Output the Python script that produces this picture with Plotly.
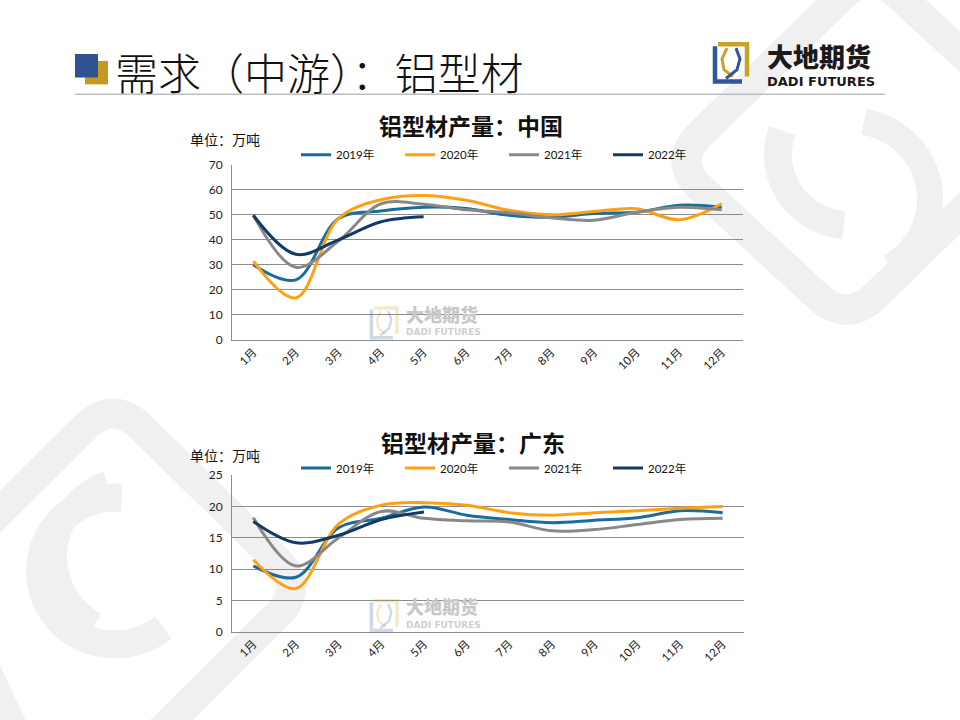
import math
import plotly.graph_objects as go

# ---------------- data ----------------
months = ["1月", "2月", "3月", "4月", "5月", "6月", "7月", "8月", "9月", "10月", "11月", "12月"]
series_names = ["2019年", "2020年", "2021年", "2022年"]

china_2019 = [30.0, 24.0, 48.5, 51.5, 53.0, 52.5, 49.8, 49.0, 50.5, 51.0, 53.8, 53.0]
china_2020 = [31.5, 16.8, 48.5, 56.0, 57.7, 55.8, 51.8, 50.0, 51.3, 52.4, 48.0, 54.4]
china_2021 = [49.8, 29.0, 39.5, 54.4, 54.2, 52.0, 50.8, 48.8, 47.8, 51.0, 53.0, 52.0]
china_2022 = [49.8, 34.2, 40.0, 47.2, 49.2]

gd_2019 = [10.5, 8.7, 16.6, 18.1, 19.9, 18.6, 17.9, 17.4, 17.8, 18.2, 19.3, 19.0]
gd_2020 = [11.5, 6.9, 17.2, 20.2, 20.6, 20.2, 19.0, 18.6, 19.0, 19.3, 19.7, 20.0]
gd_2021 = [18.2, 10.5, 15.0, 19.2, 18.1, 17.7, 17.5, 16.1, 16.3, 17.1, 17.9, 18.1]
gd_2022 = [17.6, 14.2, 15.4, 17.9, 19.1]

colors = ["#1a6c9c", "#ffa010", "#888888", "#113a66"]

W, H = 960, 720


def px(x):
    return x / W


def py(y):
    return 1 - y / H


def path_from_pts(pts, closed=False):
    s = "M " + " L ".join(f"{px(x):.5f},{py(y):.5f}" for x, y in pts)
    return s + (" Z" if closed else "")


def rounded_poly(pts, r):
    n = len(pts)
    segs = []
    for i in range(n):
        cx, cy = pts[i]
        pxv, pyv = pts[i - 1]
        nx, ny = pts[(i + 1) % n]
        d1 = math.hypot(pxv - cx, pyv - cy)
        d2 = math.hypot(nx - cx, ny - cy)
        a = (cx + (pxv - cx) * r / d1, cy + (pyv - cy) * r / d1)
        b = (cx + (nx - cx) * r / d2, cy + (ny - cy) * r / d2)
        segs.append((a, (cx, cy), b))
    s = f"M {px(segs[0][0][0]):.5f},{py(segs[0][0][1]):.5f}"
    for i, (a, c, b) in enumerate(segs):
        if i > 0:
            s += f" L {px(a[0]):.5f},{py(a[1]):.5f}"
        s += f" Q {px(c[0]):.5f},{py(c[1]):.5f} {px(b[0]):.5f},{py(b[1]):.5f}"
    s += f" L {px(segs[0][0][0]):.5f},{py(segs[0][0][1]):.5f}"
    return s


def arc(cx, cy, r, a0, a1, n=40):
    pts = []
    for k in range(n + 1):
        t = math.radians(a0 + (a1 - a0) * k / n)
        pts.append((cx + r * math.cos(t), cy + r * math.sin(t)))
    return path_from_pts(pts)


bg = "#f0f0f0"
shapes = []
# decorative watermark bands (top-right)
shapes.append(dict(type="path", xref="paper", yref="paper", layer="below",
                   path=rounded_poly([(870, -40), (1045, 125), (847, 322), (672, 157)], 40),
                   line=dict(color=bg, width=30)))
shapes.append(dict(type="path", xref="paper", yref="paper", layer="below",
                   path=arc(850, 150, 72, 200, 95), line=dict(color=bg, width=28)))
shapes.append(dict(type="path", xref="paper", yref="paper", layer="below",
                   path=arc(850, 195, 80, -80, 60), line=dict(color=bg, width=26)))
# decorative watermark bands (bottom-left)
shapes.append(dict(type="path", xref="paper", yref="paper", layer="below",
                   path=rounded_poly([(113, 400), (305, 592), (60, 840), (-60, 575)], 40),
                   line=dict(color=bg, width=30)))
shapes.append(dict(type="path", xref="paper", yref="paper", layer="below",
                   path=arc(115, 575, 75, 275, 50), line=dict(color=bg, width=28)))
shapes.append(dict(type="path", xref="paper", yref="paper", layer="below",
                   path=arc(135, 560, 80, 120, 250), line=dict(color=bg, width=24)))

# header squares
shapes.append(dict(type="rect", xref="paper", yref="paper", x0=px(85), x1=px(108), y0=py(54), y1=py(78),
                   fillcolor="#c49a22", line=dict(width=0)))
shapes.append(dict(type="rect", xref="paper", yref="paper", x0=px(75), x1=px(98), y0=py(47), y1=py(71),
                   fillcolor="#2f5290", line=dict(width=0)))
# header rule
shapes.append(dict(type="line", xref="paper", yref="paper", x0=px(75), x1=px(885), y0=py(88), y1=py(88),
                   line=dict(color="#bdbdbd", width=1.5)))


def logo_icon(x0, y0, s, op):
    def P(pts):
        return path_from_pts([(x0 + a * s, y0 + b * s) for a, b in pts])
    out = []
    out.append(dict(type="path", xref="paper", yref="paper", opacity=op,
                    path=P([(3, 5), (3, 41), (30, 41)]), line=dict(color="#2f5799", width=4.5 * s)))
    out.append(dict(type="path", xref="paper", yref="paper", opacity=op,
                    path=P([(6, 3), (35, 3), (35, 36)]), line=dict(color="#c9a227", width=4.5 * s)))
    out.append(dict(type="path", xref="paper", yref="paper", opacity=op,
                    path=P([(15, 7), (10, 18), (12, 29), (21, 36)]), line=dict(color="#c9a227", width=3 * s)))
    out.append(dict(type="path", xref="paper", yref="paper", opacity=op,
                    path=P([(24, 7), (28, 18), (25, 29), (14, 38)]), line=dict(color="#2f5799", width=3 * s)))
    return out


shapes += logo_icon(712, 34, 1.0, 1.0)
shapes += logo_icon(369, 304, 0.8, 0.22)
shapes += logo_icon(369, 603, 0.8, 0.22)

font_cjk = "Noto Sans CJK SC"
font_lat = "Lato, Noto Sans CJK SC"


def ann(text, x, y, xanchor, size, color="#111111", family=font_cjk, weight=400):
    return dict(text=text, x=px(x), y=py(y), xref="paper", yref="paper", xanchor=xanchor,
                yanchor="middle", showarrow=False,
                font=dict(family=family, size=size, color=color, weight=weight))


annotations = [
    ann("需求（中游）：铝型材", 113, 64, "left", 43, "#111111", font_cjk, 300),
    ann("大地期货", 765, 48.5, "left", 26, "#1a1a1a", font_cjk, 900),
    ann("DADI FUTURES", 765, 75, "left", 13, "#1a1a1a", "DejaVu Sans", 700),
    ann("铝型材产量：中国", 471, 119, "center", 23, "#111111", font_cjk, 700),
    ann("铝型材产量：广东", 473, 443, "center", 23, "#111111", font_cjk, 700),
    ann("单位：万吨", 188, 134, "left", 14),
    ann("单位：万吨", 188, 457, "left", 14),
]
for yy in (315, 614):
    annotations.append(ann("大地期货", 404, yy - 3, "left", 18, "#c8c8c8", font_cjk, 900))
    annotations.append(ann("DADI FUTURES", 404, yy + 16, "left", 9, "#cfcfcf", "DejaVu Sans", 700))

fig = go.Figure()
china = [china_2019, china_2020, china_2021, china_2022]
gd = [gd_2019, gd_2020, gd_2021, gd_2022]
for name, vals, c in zip(series_names, china, colors):
    fig.add_trace(go.Scatter(x=months[:len(vals)], y=vals, name=name, mode="lines",
                             line=dict(color=c, width=3, shape="spline", smoothing=1),
                             xaxis="x", yaxis="y", legend="legend"))
for name, vals, c in zip(series_names, gd, colors):
    fig.add_trace(go.Scatter(x=months[:len(vals)], y=vals, name=name, mode="lines",
                             line=dict(color=c, width=3, shape="spline", smoothing=1),
                             xaxis="x2", yaxis="y2", legend="legend2"))

grid = "#8c8c8c"
xcommon = dict(type="category", categoryorder="array", categoryarray=months, range=[-0.5, 11.5],
               tickangle=-45, showgrid=False, showline=True, linecolor=grid, linewidth=1,
               ticks="", tickfont=dict(family=font_lat, size=11.5, color="#222222"), fixedrange=True)
ycommon = dict(showgrid=True, gridcolor=grid, gridwidth=1, showline=True, linecolor=grid, linewidth=1,
               zeroline=False, ticks="", ticklabelstandoff=6,
               tickfont=dict(family=font_lat, size=12, color="#222222"), fixedrange=True)

legend_common = dict(orientation="h", xanchor="left", yanchor="top", entrywidth=59,
                     entrywidthmode="pixels", itemwidth=30, bgcolor="rgba(0,0,0,0)",
                     font=dict(family=font_lat, size=11.5, color="#111111"), tracegroupgap=0,
                     itemclick=False, itemdoubleclick=False)

fig.update_layout(
    width=W, height=H, margin=dict(l=0, r=0, t=0, b=0),
    paper_bgcolor="white", plot_bgcolor="rgba(0,0,0,0)",
    showlegend=True,
    xaxis=dict(domain=[px(232), px(743)], anchor="y", **xcommon),
    yaxis=dict(domain=[py(339), py(160)], anchor="x", range=[0, 70], dtick=10, **ycommon),
    xaxis2=dict(domain=[px(232), px(744)], anchor="y2", **xcommon),
    yaxis2=dict(domain=[py(637), py(477)], anchor="x2", range=[0, 25], dtick=5, **ycommon),
    legend=dict(x=px(296), y=py(135), **legend_common),
    legend2=dict(x=px(296), y=py(455), **legend_common),
    shapes=shapes,
    annotations=annotations,
)

fig.write_html("out.html", config={"displayModeBar": False},
               post_script="document.body.style.margin='0';")
